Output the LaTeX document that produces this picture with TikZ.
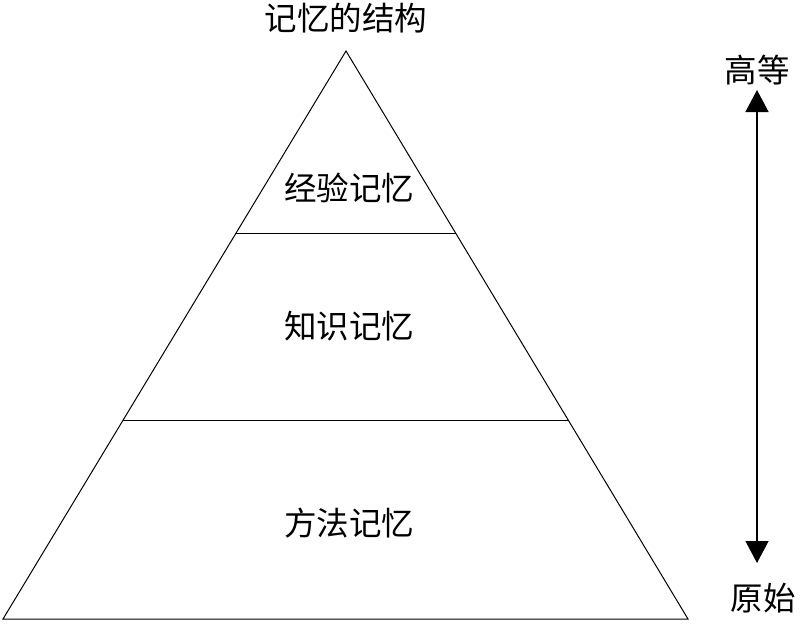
\documentclass[tikz,border=0pt]{standalone}
\usepackage{fontspec}
\newfontfamily\cjk{Noto Sans CJK SC}
\usetikzlibrary{arrows.meta}

\begin{document}
\begin{tikzpicture}[
  x=1pt, y=-1pt,
  font=\cjk\fontsize{32.5}{36}\selectfont,
  edge/.style={draw, line width=1pt},
  label/.style={inner sep=0pt, anchor=center},
  arr/.style={line width=1.4pt, {Triangle[width=23pt,length=22pt]}-{Triangle[width=23pt,length=22pt]}}
]
\useasboundingbox (0,0) rectangle (800,624);
% pyramid corners
\coordinate (top) at (346,51);
\coordinate (bl) at (3,619);
\coordinate (br) at (688,619);
\draw[edge] (top) -- (bl) -- (br) -- cycle;
% level borders
\coordinate (l1) at (236,233);
\coordinate (r1) at (456,233);
\coordinate (l2) at (123,420);
\coordinate (r2) at (569,420);
\draw[edge] (l1) -- (r1);
\draw[edge] (l2) -- (r2);
% texts
\node[label] (title) at (346,18) {记忆的结构};
\node[label] (exp) at (349,188) {经验记忆};
\node[label] (know) at (349,326) {知识记忆};
\node[label] (meth) at (349,523) {方法记忆};
\node[label] (high) at (757,70) {高等};
\node[label] (low) at (763,598) {原始};
% scale arrow
\coordinate (atop) at (757,90);
\coordinate (abot) at (757,563);
\draw[arr] (atop) -- (abot);
\end{tikzpicture}
\end{document}
